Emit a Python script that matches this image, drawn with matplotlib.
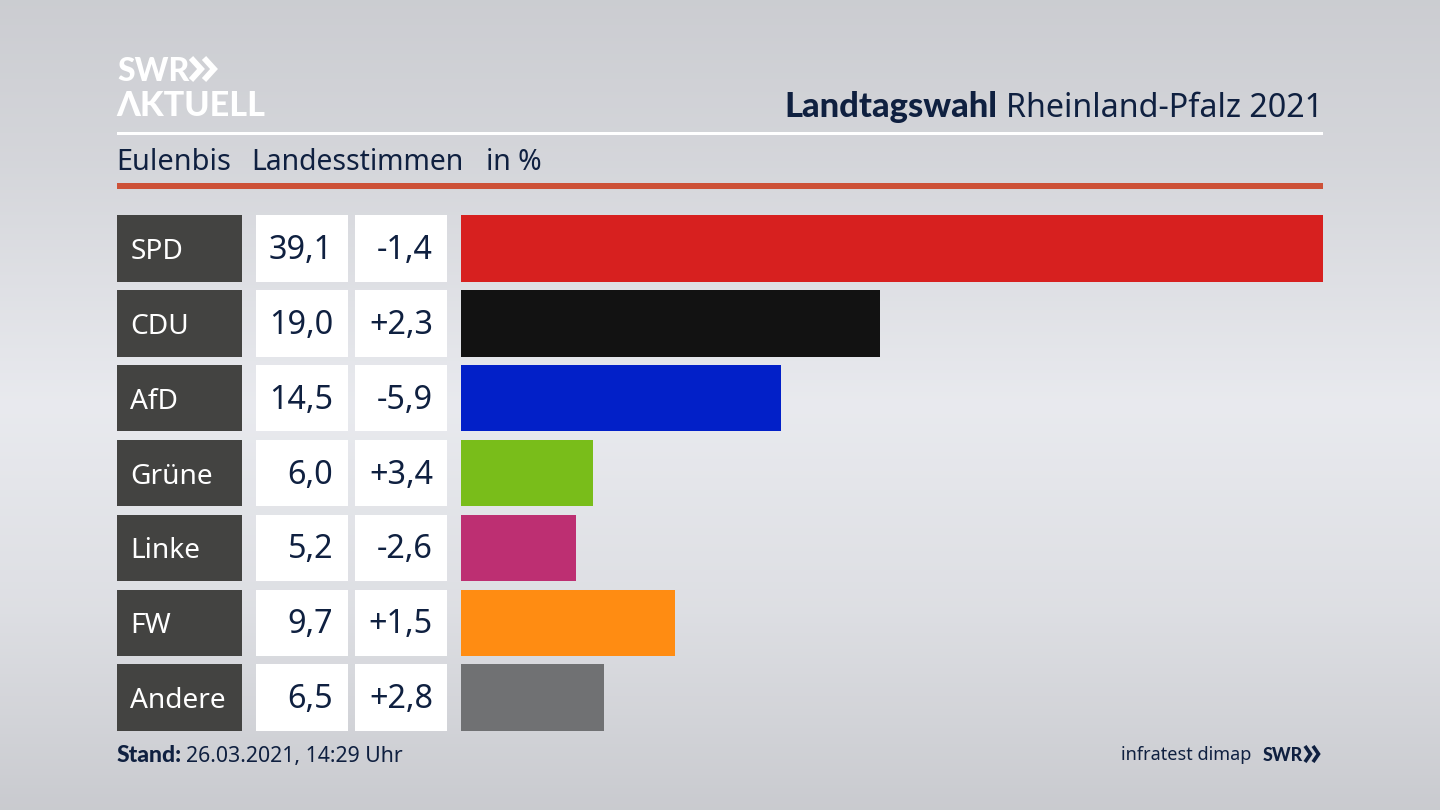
import numpy as np
import matplotlib
matplotlib.use('Agg')
import matplotlib.pyplot as plt
from matplotlib.patches import Rectangle

plt.rcParams['font.family'] = ['Noto Sans', 'DejaVu Sans']

parties = ['SPD', 'CDU', 'AfD', 'Grüne', 'Linke', 'FW', 'Andere']
shares = [39.1, 19.0, 14.5, 6.0, 5.2, 9.7, 6.5]
changes = ['-1,4', '+2,3', '-5,9', '+3,4', '-2,6', '+1,5', '+2,8']
colors = ['#d7201f', '#121212', '#0220c8', '#79bd1a', '#bd2f72', '#ff8c12', '#707173']

navy = '#0f2040'
bold_font = ['Lato', 'DejaVu Sans']

fig = plt.figure(figsize=(14.4, 8.1), dpi=100)

# page in pixel coords, y down
bg = fig.add_axes([0, 0, 1, 1])
bg.set_xlim(0, 1440)
bg.set_ylim(810, 0)
bg.axis('off')

# background gradient, light band through the middle
stops_y = [0, 0.2, 0.5, 0.75, 1]
stops_c = [0xcd, 0xd6, 0xea, 0xdf, 0xcb]
grad = np.interp(np.linspace(0, 1, 256), stops_y, stops_c) / 255
grad = np.dstack([grad - 0.005, grad, grad + 0.018]).clip(0, 1)
bg.imshow(grad.reshape(256, 1, 3), extent=[0, 1440, 810, 0], aspect='auto', zorder=0)

# logo
bg.text(117, 81, 'SWR', color='white', fontsize=23, fontweight='black', family=bold_font, va='baseline')
bg.text(116, 116, 'ΛKTUELL', color='white', fontsize=24.6, fontweight='black', family=bold_font, va='baseline')
for x0 in (191, 204):
    bg.plot([x0, x0 + 10, x0], [58, 69, 80], color='white', lw=4.2, solid_joinstyle='miter', solid_capstyle='butt')

# header
bg.text(1323, 117, 'Rheinland-Pfalz 2021', color=navy, fontsize=23.2, ha='right', va='baseline')
bg.text(997, 117, 'Landtagswahl', color=navy, fontsize=24.8, fontweight='black', family=bold_font, ha='right', va='baseline')
bg.add_patch(Rectangle((117, 132), 1206, 3, color='white', lw=0))
bg.text(116.5, 170, 'Eulenbis', color=navy, fontsize=20.8, va='baseline')
bg.text(251.5, 170, 'Landesstimmen', color=navy, fontsize=20.4, va='baseline')
bg.text(486, 170, 'in %', color=navy, fontsize=20.4, va='baseline')
bg.add_patch(Rectangle((117, 183), 1206, 6, color='#cd5138', lw=0))

# table rows
row_top = 215
row_h = 66.6
row_step = 74.9
for i, p in enumerate(parties):
    y = row_top + i * row_step
    bg.add_patch(Rectangle((117, y), 124.5, row_h, color='#434341', lw=0))
    bg.add_patch(Rectangle((255.5, y), 92.5, row_h, color='white', lw=0))
    bg.add_patch(Rectangle((354.5, y), 92.5, row_h, color='white', lw=0))
    base = y + row_h / 2 + 10.5
    bg.text(130.5, base, p, color='white', fontsize=20.2, va='baseline')
    bg.text(333, base, f'{shares[i]:.1f}'.replace('.', ','), color=navy, fontsize=23.3, ha='right', va='baseline')
    bg.text(433, base, changes[i], color=navy, fontsize=23.3, ha='right', va='baseline')

# bars
ax = fig.add_axes([461 / 1440, 1 - (row_top + 6 * row_step + row_h) / 810,
                   862 / 1440, (6 * row_step + row_h) / 810])
ax.patch.set_alpha(0)
ax.barh(range(len(parties)), shares, height=row_h / row_step, color=colors)
ax.set_xlim(0, 39.1)
ax.set_ylim(6 + row_h / row_step / 2, -row_h / row_step / 2)
ax.axis('off')

# footer
bg.text(117, 762, 'Stand:', color=navy, fontsize=16.5, fontweight='black', family=bold_font, va='baseline')
bg.text(186, 762, '26.03.2021, 14:29 Uhr', color=navy, fontsize=15.3, va='baseline')
bg.text(1251, 760, 'infratest dimap', color=navy, fontsize=13, ha='right', va='baseline')
bg.text(1263, 761, 'SWR', color=navy, fontsize=12.8, fontweight='black', family=bold_font, va='baseline')
for x0 in (1305, 1313):
    bg.plot([x0, x0 + 5.5, x0], [746, 754, 762], color=navy, lw=2.6, solid_joinstyle='miter', solid_capstyle='butt')

fig.savefig('out.png', dpi=100)
